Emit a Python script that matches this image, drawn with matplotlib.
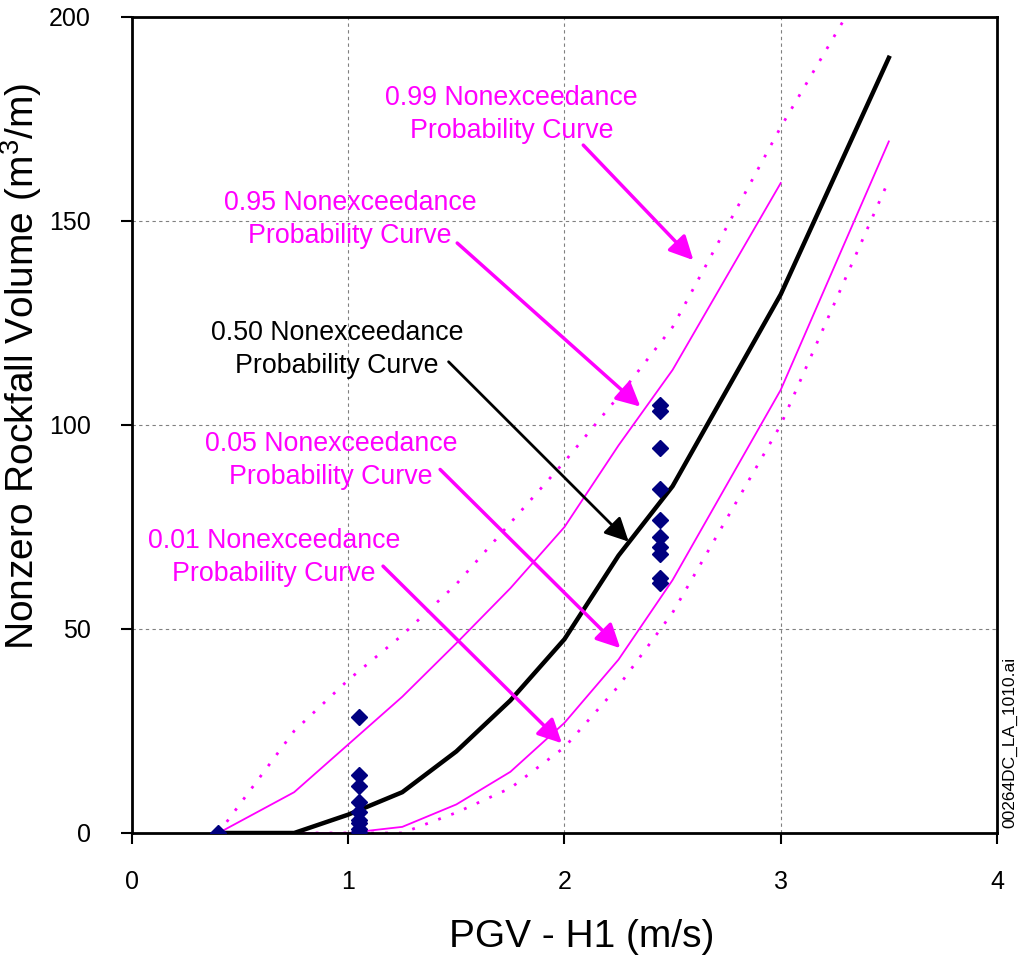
import matplotlib
matplotlib.use('Agg')
import matplotlib.pyplot as plt

plt.rcParams['font.family'] = ['Liberation Sans', 'DejaVu Sans']
plt.rcParams['mathtext.default'] = 'regular'

# curve vertices (PGV m/s, volume m3/m)
p50_x = [0.4, 0.75, 1.0, 1.25, 1.5, 1.75, 2.0, 2.25, 2.5, 3.0, 3.5]
p50_y = [0, 0, 4.5, 10, 20, 32.5, 47.5, 68, 85, 132, 190]

p95_x = [0.4, 0.75, 1.0, 1.25, 1.5, 1.75, 2.0, 2.25, 2.5, 3.0]
p95_y = [0, 10, 21.7, 33.4, 46.5, 60, 75, 95, 113.5, 159.3]

p99_x = [0.4, 0.75, 1.0, 1.25, 1.5, 1.75, 2.0, 2.25, 2.5, 3.0, 3.5]
p99_y = [0, 25, 37.5, 48.5, 61, 76, 91, 107, 124, 173, 218]

p05_x = [0.4, 1.0, 1.25, 1.5, 1.75, 2.0, 2.25, 2.5, 3.0, 3.5]
p05_y = [0, 0, 1.5, 7, 15, 27, 42.5, 62, 108.6, 169.5]

p01_x = [0.4, 1.25, 1.5, 1.75, 2.0, 2.25, 2.5, 3.0, 3.5]
p01_y = [0, 0, 5, 11, 21, 36, 54, 100, 160]

# observed data
obs_x = [0.4] + [1.05] * 9 + [2.44] * 10
obs_y = [0,
         28.5, 14.2, 11.6, 7.7, 5.2, 3.2, 2.4, 1.1, 0.3,
         104.8, 103.5, 94.3, 84.2, 76.7, 72.6, 70.1, 68.5, 62.4, 61.2]

# annotations: text, text position, arrow start, arrow tip, colour
labels = ['0.99 Nonexceedance\nProbability Curve',
          '0.95 Nonexceedance\nProbability Curve',
          '0.50 Nonexceedance\nProbability Curve',
          '0.05 Nonexceedance\nProbability Curve',
          '0.01 Nonexceedance\nProbability Curve']
label_pos = [(1.754, 176.2), (1.009, 150.4), (0.949, 118.4), (0.921, 91.2), (0.657, 67.6)]
arrow_from = [(2.087, 168.6), (1.504, 144.6), (1.464, 115.5), (1.425, 89.1), (1.161, 65.4)]
arrow_to = [(2.596, 140.4), (2.351, 104.5), (2.297, 71.4), (2.258, 45.3), (1.988, 22.0)]
label_colors = ['#ff00ff', '#ff00ff', 'black', '#ff00ff', '#ff00ff']

fig = plt.figure(figsize=(10.2, 9.6), dpi=100)
ax = fig.add_axes([0.1294, 0.1323, 0.848, 0.850])

ax.grid(True, color='#808080', linestyle=(0, (3, 3)), linewidth=0.8)
ax.set_axisbelow(True)

dotted = (0, (1, 4))
ax.plot(p99_x, p99_y, color='#ff00ff', lw=2, linestyle=dotted)
ax.plot(p95_x, p95_y, color='#ff00ff', lw=1.3)
ax.plot(p05_x, p05_y, color='#ff00ff', lw=1.3)
ax.plot(p01_x, p01_y, color='#ff00ff', lw=2, linestyle=dotted)
ax.plot(p50_x, p50_y, color='black', lw=3.2)
ax.plot(obs_x, obs_y, 'D', color='#000080', markersize=8, linestyle='none', zorder=5)

for txt, pos, a0, a1, c in zip(labels, label_pos, arrow_from, arrow_to, label_colors):
    ax.text(pos[0], pos[1], txt, color=c, fontsize=19.3, ha='center', va='center',
            linespacing=1.35)
    ax.annotate('', xy=a1, xytext=a0,
                arrowprops=dict(arrowstyle='-|>', color=c, lw=2.5 if c != 'black' else 2,
                                mutation_scale=36, shrinkA=0, shrinkB=0))

ax.set_xlim(0, 4)
ax.set_ylim(0, 200)
ax.set_xticks([0, 1, 2, 3, 4])
ax.set_yticks([0, 50, 100, 150, 200])
ax.tick_params(direction='out', length=8, width=1.5, labelsize=18)
ax.tick_params(axis='x', pad=19)
ax.tick_params(axis='y', pad=21.5)
for s in ax.spines.values():
    s.set_linewidth(2)

ax.set_xlabel('PGV - H1 (m/s)', fontsize=28)
ax.set_ylabel('Nonzero Rockfall Volume (m$^{3}$/m)', fontsize=28)
ax.xaxis.set_label_coords(0.520, -0.105)
ax.yaxis.set_label_coords(-0.102, 0.572)

fig.text(0.990, 0.227, '00264DC_LA_1010.ai', rotation=90, fontsize=12.5,
         ha='center', va='center')

plt.savefig('out.png', dpi=100)
